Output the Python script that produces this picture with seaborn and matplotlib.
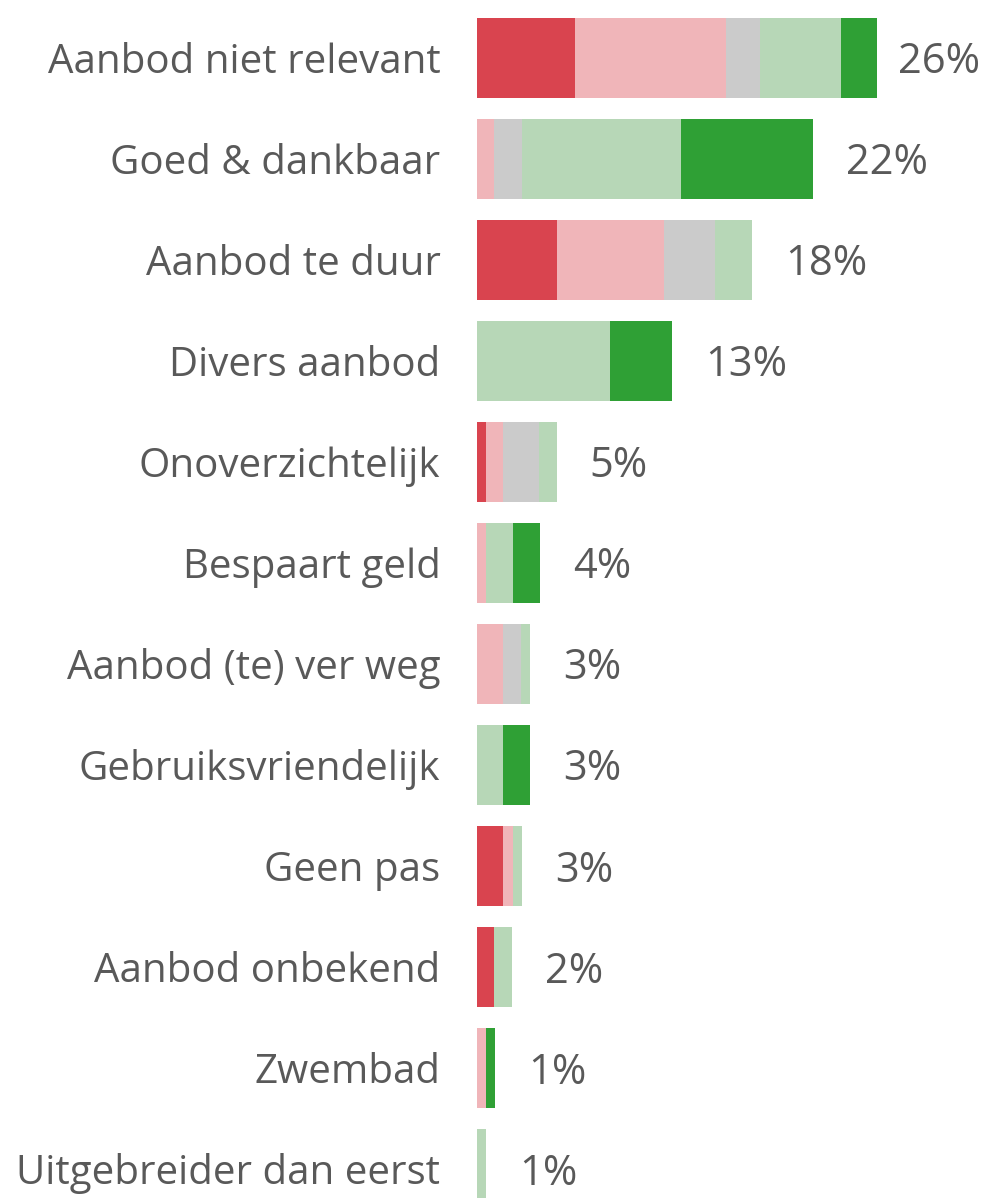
import numpy as np
import pandas as pd
import matplotlib.pyplot as plt
import matplotlib.transforms as mtransforms
import seaborn as sns

categories = ["Aanbod niet relevant", "Goed & dankbaar", "Aanbod te duur",
              "Divers aanbod", "Onoverzichtelijk", "Bespaart geld",
              "Aanbod (te) ver weg", "Gebruiksvriendelijk", "Geen pas",
              "Aanbod onbekend", "Zwembad", "Uitgebreider dan eerst"]
# segment sizes, in % of respondents
red    = [6.4, 0.0, 5.2, 0.0, 0.6, 0.0, 0.0, 0.0, 1.75, 1.15, 0.0, 0.0]
pink   = [9.8, 1.15, 7.0, 0.0, 1.1, 0.6, 1.75, 0.0, 0.6, 0.0, 0.6, 0.0]
grey   = [2.2, 1.8, 3.3, 0.0, 2.35, 0.0, 1.15, 0.0, 0.0, 0.0, 0.0, 0.0]
lgreen = [5.3, 10.3, 2.4, 8.7, 1.15, 1.75, 0.6, 1.75, 0.6, 1.15, 0.0, 0.6]
green  = [2.3, 8.6, 0.0, 4.0, 0.0, 1.75, 0.0, 1.75, 0.0, 0.0, 0.6, 0.0]
labels = ["26%", "22%", "18%", "13%", "5%", "4%", "3%", "3%", "3%", "2%", "1%", "1%"]

colors = ["#D9444F", "#F0B5B9", "#CBCBCB", "#B7D7B7", "#2FA035"]
segments = [red, pink, grey, lgreen, green]

df = pd.DataFrame({"cat": categories})
cum = np.cumsum(np.array(segments), axis=0)

sns.set_style("white")
plt.rcParams["font.family"] = ["Open Sans", "DejaVu Sans"]
txt = "#595959"

fig = plt.figure(figsize=(9.86, 11.98), dpi=100)
ax = fig.add_axes([476.5 / 986, 0, 509.5 / 986, 1])

# draw cumulative totals from the back so the segments stack
for k in range(len(segments) - 1, -1, -1):
    df["v"] = cum[k]
    sns.barplot(data=df, x="v", y="cat", order=categories, color=colors[k],
                width=0.79, saturation=1, linewidth=0, ax=ax)

px = 15.4  # pixels per percent
ax.set_xlim(0, 509.5 / px)
ax.set_ylim(11.287, -0.574)

down = mtransforms.ScaledTranslation(0, -0.045, fig.dpi_scale_trans)
totals = cum[-1]
for i, (t, lab) in enumerate(zip(totals, labels)):
    x = min(t + 33 / px, 27.4)
    ax.text(x, i, lab, va="center", ha="left", fontsize=30, color=txt,
            transform=ax.transData + down)

ax.set_xlabel("")
ax.set_ylabel("")
ax.set_xticks([])
ax.tick_params(axis="y", length=0, pad=26, labelsize=29, labelcolor=txt)
for lbl in ax.get_yticklabels():
    lbl.set_verticalalignment("center")
    lbl.set_transform(lbl.get_transform() + down)
sns.despine(ax=ax, left=True, bottom=True)

fig.savefig("out.png", dpi=100)
